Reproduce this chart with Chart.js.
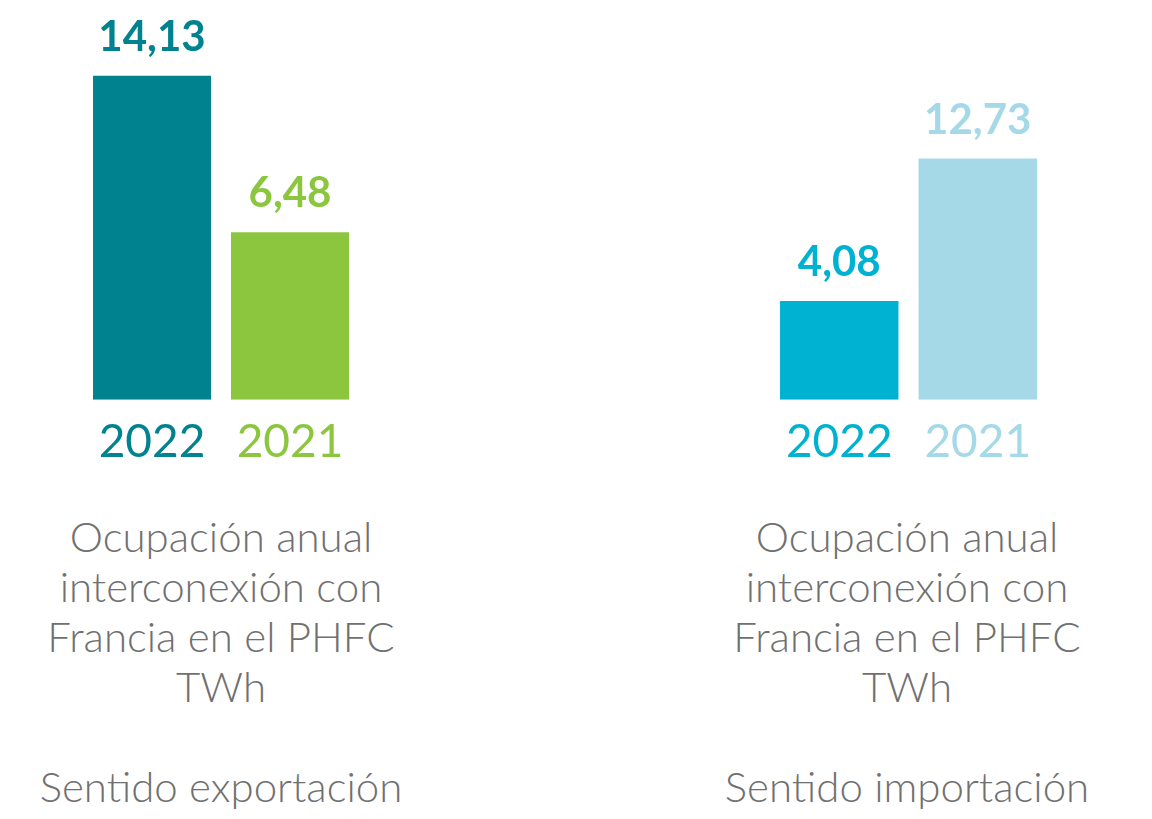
<!DOCTYPE html>
<html lang="es">
<head>
<meta charset="UTF-8">
<title>Ocupación anual interconexión con Francia</title>
<script src="https://cdn.jsdelivr.net/npm/chart.js@4"></script>
<style>
  body { margin: 0; background: #fff; width: 1152px; height: 819px; position: relative; overflow: hidden; font-family: Lato, sans-serif; }
  canvas { position: absolute; top: 0; }
  #expChart { left: 43px; }
  #impChart { left: 730px; }
  .caption { position: absolute; top: 511px; width: 440px; text-align: center; color: #707070;
             font-weight: 300; font-size: 42px; line-height: 50px; }
  .caption .dir { margin-top: 50px; }
</style>
</head>
<body>
<canvas id="expChart" width="356" height="496"></canvas>
<canvas id="impChart" width="357" height="496"></canvas>

<div class="caption" style="left:1px">
  <div>Ocupación anual<br>interconexión con<br>Francia en el PHFC<br>TWh</div>
  <div class="dir">Sentido exportación</div>
</div>
<div class="caption" style="left:687px">
  <div>Ocupación anual<br>interconexión con<br>Francia en el PHFC<br>TWh</div>
  <div class="dir">Sentido importación</div>
</div>

<script>
// data
const years = ['2022', '2021'];
const exportValues = [14.13, 6.48];
const importValues = [4.08, 12.73];

const exportColors = ['#00828F', '#8CC63F'];
const importColors = ['#00B2D2', '#A6D9E8'];

// value labels above bars, written with a decimal comma
const valueLabels = {
  id: 'valueLabels',
  afterDatasetsDraw(chart) {
    const ctx = chart.ctx;
    const ds = chart.data.datasets[0];
    chart.getDatasetMeta(0).data.forEach((bar, i) => {
      ctx.save();
      ctx.font = 'bold 42px Lato';
      ctx.fillStyle = ds.backgroundColor[i];
      ctx.textAlign = 'center';
      ctx.textBaseline = 'alphabetic';
      ctx.fillText(ds.data[i].toFixed(2).replace('.', ','), bar.x, bar.y - 25);
      ctx.restore();
    });
  }
};

function makeChart(id, values, colors, yMin, yMax) {
  return new Chart(document.getElementById(id), {
    type: 'bar',
    data: {
      labels: years,
      datasets: [{
        data: values,
        backgroundColor: colors,
        base: yMin,
        categoryPercentage: 1,
        barPercentage: 0.855
      }]
    },
    options: {
      responsive: false,
      animation: false,
      layout: { padding: { left: 40, right: 40, top: 0, bottom: 11 } },
      plugins: { legend: { display: false }, tooltip: { enabled: false } },
      scales: {
        x: {
          grid: { display: false, drawTicks: false },
          border: { display: false },
          ticks: {
            padding: 15,
            font: { family: 'Lato', size: 46 },
            color: c => colors[c.index]
          }
        },
        y: { display: false, min: yMin, max: yMax }
      }
    },
    plugins: [valueLabels]
  });
}

Promise.all([
  document.fonts.load('bold 42px Lato'),
  document.fonts.load('46px Lato'),
  document.fonts.load('300 42px Lato')
]).catch(() => {}).then(() => {
  makeChart('expChart', exportValues, exportColors, -1.71, 17.83);
  makeChart('impChart', importValues, importColors, -1.91, 22.35);
});
</script>
</body>
</html>
